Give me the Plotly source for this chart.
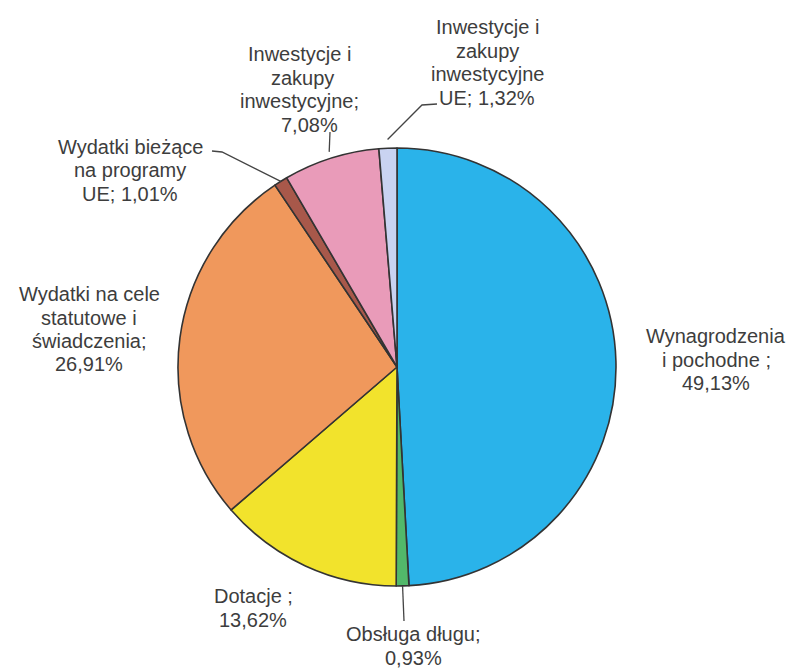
import math
import plotly.graph_objects as go

# ---- data ----
categories = [
    "Wynagrodzenia i pochodne",
    "Obsługa długu",
    "Dotacje",
    "Wydatki na cele statutowe i świadczenia",
    "Wydatki bieżące na programy UE",
    "Inwestycje i zakupy inwestycyjne",
    "Inwestycje i zakupy inwestycyjne UE",
]
shares = [49.13, 0.93, 13.62, 26.91, 1.01, 7.08, 1.32]
share_labels = ["49,13%", "0,93%", "13,62%", "26,91%", "1,01%", "7,08%", "1,32%"]
label_lines = [
    ["Wynagrodzenia", "i pochodne ;", "49,13%"],
    ["Obsługa długu;", "0,93%"],
    ["Dotacje ;", "13,62%"],
    ["Wydatki na cele", "statutowe i", "świadczenia;", "26,91%"],
    ["Wydatki bieżące", "na programy", "UE; 1,01%"],
    ["Inwestycje i", "zakupy", "inwestycyjne;", "7,08%"],
    ["Inwestycje i", "zakupy", "inwestycyjne", "UE; 1,32%"],
]
colors = ["#2ab3ea", "#52b86a", "#f2e32c", "#f0985c", "#a8584a", "#e99bb9", "#c9d3f1"]

# ---- layout geometry (screen pixels) ----
W, H = 795, 669
OFF = 8  # page body margin
CX, CY, R = 397, 367, 219
FONT = dict(family="Liberation Sans, Arial, sans-serif", size=20, color="#3d3d3d")
LINE_H = 23.5

# label block positions: (center x, y of first line) in pixels
label_pos = [
    (716, 336),
    (413, 634),
    (253, 596),
    (89, 294),
    (130, 147),
    (299, 54),
    (487, 27),
]
# per-line x offsets where lines are not centred identically
line_dx = {5: [0, 3, 0, 10]}

# leader lines: outer points (pixels); inner end taken from slice mid-angle
leader_outer = {
    1: [(404, 621)],
    4: [(212, 151), (222, 152)],
    5: [(330, 132)],
    6: [(437, 104), (422, 105)],
}
leader_inner_r = {1: 1.0, 4: 1.0, 5: 1.03, 6: 1.04}


def px(x):
    return (x - OFF) / W


def py(y):
    return 1 - (y - OFF) / H


fig = go.Figure(
    go.Pie(
        labels=categories,
        values=shares,
        sort=False,
        direction="clockwise",
        rotation=0,
        marker=dict(colors=colors, line=dict(color="#333333", width=1.6)),
        textinfo="none",
        hoverinfo="label+percent",
        showlegend=False,
        domain=dict(x=[px(CX - R), px(CX + R)], y=[py(CY + R), py(CY - R)]),
    )
)

annotations = []
for i, lines in enumerate(label_lines):
    x0, y0 = label_pos[i]
    dxs = line_dx.get(i, [0] * len(lines))
    for k, t in enumerate(lines):
        annotations.append(
            dict(
                x=px(x0 + dxs[k]),
                y=py(y0 + k * LINE_H),
                xref="paper",
                yref="paper",
                text=t,
                showarrow=False,
                xanchor="center",
                yanchor="middle",
                font=FONT,
            )
        )

shapes = []
total = sum(shares)
cum = 0.0
for i, v in enumerate(shares):
    mid = (cum + v / 2) / total * 2 * math.pi
    cum += v
    if i not in leader_outer:
        continue
    rr = R * leader_inner_r[i]
    ex = CX + rr * math.sin(mid)
    ey = CY - rr * math.cos(mid)
    pts = leader_outer[i] + [(ex, ey)]
    path = "M " + " L ".join(f"{px(a):.5f},{py(b):.5f}" for a, b in pts)
    shapes.append(
        dict(type="path", path=path, xref="paper", yref="paper",
             line=dict(color="#444444", width=1.3))
    )

fig.update_layout(
    width=W,
    height=H,
    margin=dict(l=0, r=0, t=0, b=0),
    paper_bgcolor="white",
    plot_bgcolor="white",
    annotations=annotations,
    shapes=shapes,
)

fig.write_html("out.html")
